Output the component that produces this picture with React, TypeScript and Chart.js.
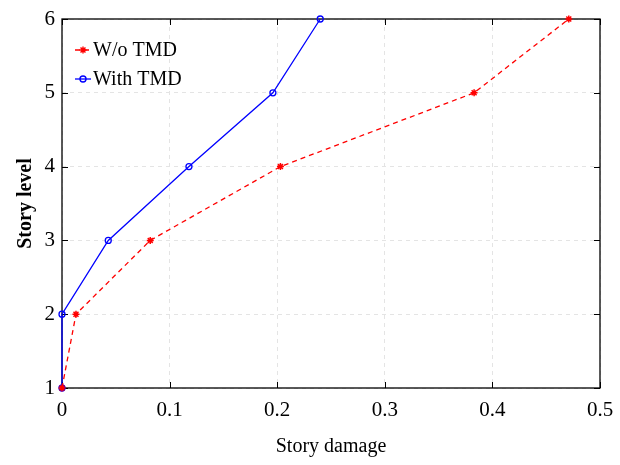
import { useEffect, useRef } from 'react';
import { Chart, registerables } from 'chart.js';

Chart.register(...registerables);

const storyLevels = [1, 2, 3, 4, 5, 6];
const damageWithoutTMD = [0, 0.013, 0.082, 0.203, 0.383, 0.471];
const damageWithTMD = [0, 0, 0.043, 0.118, 0.196, 0.24];
const xTickValues = [0, 0.1, 0.2, 0.3, 0.4, 0.5];
const yTickValues = [1, 2, 3, 4, 5, 6];
const seriesLabels = ['W/o TMD', 'With TMD'];
const xTitle = 'Story damage';
const yTitle = 'Story level';

const FONT = "'Liberation Serif', 'Times New Roman', serif";
const RED = '#ff0000';
const BLUE = '#0000ff';

const frameAndTicks = {
  id: 'frameAndTicks',
  beforeDatasetsDraw(chart: any) {
    const { ctx, chartArea, scales } = chart;
    const { left, right, top, bottom } = chartArea;
    const x = scales.x;
    const y = scales.y;
    ctx.save();
    ctx.strokeStyle = '#000';
    ctx.lineWidth = 1;
    const L = 6;
    ctx.beginPath();
    xTickValues.forEach((v) => {
      const px = Math.round(x.getPixelForValue(v)) + 0.5;
      ctx.moveTo(px, bottom);
      ctx.lineTo(px, bottom - L);
      ctx.moveTo(px, top);
      ctx.lineTo(px, top + L);
    });
    yTickValues.forEach((v) => {
      const py = Math.round(y.getPixelForValue(v)) + 0.5;
      ctx.moveTo(left, py);
      ctx.lineTo(left + L, py);
      ctx.moveTo(right, py);
      ctx.lineTo(right - L, py);
    });
    ctx.stroke();
    ctx.lineWidth = 1.3;
    ctx.strokeRect(left, top, right - left, bottom - top);
    ctx.restore();
  },
};

function drawStar(ctx: CanvasRenderingContext2D, cx: number, cy: number, r: number) {
  ctx.beginPath();
  for (let k = 0; k < 4; k++) {
    const a = (k * Math.PI) / 4;
    ctx.moveTo(cx - Math.cos(a) * r, cy - Math.sin(a) * r);
    ctx.lineTo(cx + Math.cos(a) * r, cy + Math.sin(a) * r);
  }
  ctx.stroke();
}

const insideLegend = {
  id: 'insideLegend',
  afterDraw(chart: any) {
    const { ctx, chartArea } = chart;
    const x0 = chartArea.left + 13;
    const rows = [chartArea.top + 31, chartArea.top + 60];
    ctx.save();
    chart.data.datasets.forEach((ds: any, i: number) => {
      const yy = rows[i];
      ctx.strokeStyle = ds.borderColor;
      ctx.lineWidth = 1.3;
      ctx.setLineDash(ds.borderDash || []);
      ctx.beginPath();
      ctx.moveTo(x0, yy);
      ctx.lineTo(x0 + 16, yy);
      ctx.stroke();
      ctx.setLineDash([]);
      ctx.lineWidth = 1.4;
      if (ds.pointStyle === 'star') {
        drawStar(ctx, x0 + 8, yy, ds.pointRadius);
      } else {
        ctx.beginPath();
        ctx.arc(x0 + 8, yy, ds.pointRadius, 0, Math.PI * 2);
        ctx.stroke();
      }
      ctx.fillStyle = '#000';
      ctx.font = `20px ${FONT}`;
      ctx.textBaseline = 'middle';
      ctx.textAlign = 'left';
      ctx.fillText(ds.label, x0 + 18, yy + 1);
    });
    ctx.restore();
  },
};

export default function App() {
  const ref = useRef<HTMLCanvasElement>(null);
  useEffect(() => {
    document.body.style.margin = '0';
    const canvas = ref.current!;
    const chart = new Chart(canvas, {
      type: 'line',
      data: {
        datasets: [
          {
            label: seriesLabels[0],
            data: storyLevels.map((lv, i) => ({ x: damageWithoutTMD[i], y: lv })),
            borderColor: RED,
            backgroundColor: RED,
            borderWidth: 1.3,
            borderDash: [5, 4],
            pointStyle: 'star',
            pointRadius: 3.5,
            pointBorderColor: RED,
            pointBorderWidth: 1.5,
            tension: 0,
            clip: false,
          },
          {
            label: seriesLabels[1],
            data: storyLevels.map((lv, i) => ({ x: damageWithTMD[i], y: lv })),
            borderColor: BLUE,
            backgroundColor: 'rgba(0,0,0,0)',
            borderWidth: 1.3,
            pointStyle: 'circle',
            pointRadius: 3,
            pointBorderColor: BLUE,
            pointBackgroundColor: 'rgba(0,0,0,0)',
            pointBorderWidth: 1.3,
            tension: 0,
            clip: false,
          },
        ],
      },
      options: {
        responsive: false,
        animation: false,
        layout: { padding: { top: 19, right: 20, left: 0, bottom: 0 } },
        plugins: {
          legend: { display: false },
          tooltip: { enabled: false },
        },
        scales: {
          x: {
            type: 'linear',
            min: 0,
            max: 0.5,
            afterBuildTicks: (s: any) => {
              s.ticks = xTickValues.map((v) => ({ value: v }));
            },
            afterFit: (s: any) => {
              s.height = 77;
              s.paddingRight = 0;
              s.paddingLeft = 0;
            },
            grid: {
              color: '#e4e4e4',
              drawTicks: false,
              lineWidth: 1,
            },
            border: { display: false, dash: [4, 4] },
            ticks: {
              color: '#000',
              padding: 10,
              font: { family: FONT, size: 21 },
              callback: (v: any) => String(Number(Number(v).toFixed(1))),
            },
            title: {
              display: true,
              text: xTitle,
              color: '#000',
              font: { family: FONT, size: 20 },
              padding: { top: 0, bottom: 6 },
            },
          },
          y: {
            type: 'linear',
            min: 1,
            max: 6,
            afterBuildTicks: (s: any) => {
              s.ticks = yTickValues.map((v) => ({ value: v }));
            },
            afterFit: (s: any) => {
              s.width = 62;
              s.paddingTop = 0;
              s.paddingBottom = 0;
            },
            grid: {
              color: '#e4e4e4',
              drawTicks: false,
              lineWidth: 1,
            },
            border: { display: false, dash: [4, 4] },
            ticks: {
              color: '#000',
              padding: 7,
              font: { family: FONT, size: 21 },
              callback: (v: any) => String(v),
            },
            title: {
              display: true,
              text: yTitle,
              color: '#000',
              font: { family: FONT, size: 20, weight: 'bold' },
              padding: { top: 14, bottom: 0 },
            },
          },
        },
      },
      plugins: [frameAndTicks, insideLegend],
    } as any);
    return () => chart.destroy();
  }, []);
  return <canvas ref={ref} width={620} height={465} style={{ display: 'block' }} />;
}
